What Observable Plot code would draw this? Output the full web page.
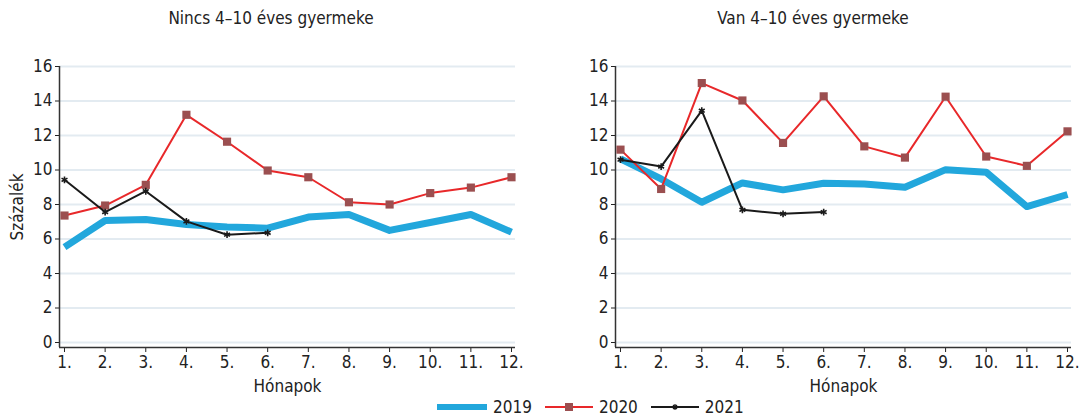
<!DOCTYPE html>
<html><head><meta charset="utf-8">
<script src="https://cdn.jsdelivr.net/npm/d3@7"></script>
<script src="https://cdn.jsdelivr.net/npm/@observablehq/plot@0.6"></script>
<style>
body{margin:0;background:#fff;font-family:"Liberation Sans Narrow","DejaVu Sans Condensed",sans-serif;color:#222}
#wrap{width:1084px;height:416px;position:relative;overflow:hidden}
.row{display:flex}
.panel{width:542px}
.title{height:36px;line-height:36px;text-align:center;font-size:17px}
#legend{position:absolute;left:437px;top:398px;height:18px;display:flex;align-items:center;font-size:17px}
#legend span{margin:0 13px 0 6px}
#legend svg{display:block}
</style></head><body>
<div id="wrap">
  <div class="row">
    <div class="panel"><div class="title">Nincs 4–10 éves gyermeke</div><div id="p1"></div></div>
    <div class="panel"><div class="title">Van 4–10 éves gyermeke</div><div id="p2"></div></div>
  </div>
  <div id="legend"></div>
</div>
<script>
const months = [1,2,3,4,5,6,7,8,9,10,11,12];
const monthLabels = ["1.","2.","3.","4.","5.","6.","7.","8.","9.","10.","11.","12."];
const yTicks = [0,2,4,6,8,10,12,14,16];
const seriesNames = ["2019","2020","2021"];

// Nincs 4–10 éves gyermeke
const no2019 = [5.53,7.07,7.13,6.84,6.69,6.63,7.27,7.42,6.50,6.96,7.42,6.40];
const no2020 = [7.36,7.94,9.14,13.20,11.64,9.97,9.58,8.13,8.00,8.66,8.98,9.58];
const no2021 = [9.43,7.56,8.77,7.02,6.25,6.36];
// Van 4–10 éves gyermeke
const yes2019 = [10.64,9.48,8.13,9.25,8.85,9.23,9.19,9.00,10.02,9.87,7.88,8.58];
const yes2020 = [11.18,8.90,15.04,14.03,11.57,14.27,11.37,10.72,14.25,10.78,10.24,12.24];
const yes2021 = [10.60,10.20,13.44,7.69,7.46,7.56];

const C19 = "#22a7dc", C20 = "#e8282a", M20 = "#9b4f50", C21 = "#1a1a1a";
const font = '"Liberation Sans Narrow","DejaVu Sans Condensed",sans-serif';

const toRows = vals => vals.map((v,i) => ({m: months[i], v}));
const xPadL = 5/40.64, xPadR = 4/40.64, yPad = 5/17.25;
const xDom = [months[0]-xPadL, months[months.length-1]+xPadR];
const yDom = [yTicks[0]-yPad, yTicks[yTicks.length-1]];

function panel(d19, d20, d21, o){
  const r19 = toRows(d19), r20 = toRows(d20), r21 = toRows(d21);
  return Plot.plot({
    width:542, height:362,
    marginLeft:o.ml, marginRight:o.mr, marginTop:30, marginBottom:51,
    style:{fontFamily:font, fontSize:"17px", color:"#222", background:"white", overflow:"visible"},
    x:{domain:xDom, ticks:months, tickFormat:d=>monthLabels[months.indexOf(d)], tickSize:5, tickPadding:3,
       label:"Hónapok", labelArrow:false, labelAnchor:"center", labelOffset:44},
    y:{domain:yDom, ticks:yTicks, tickSize:4, tickPadding:3, label:o.ylabel, labelArrow:false, labelAnchor:"center", labelOffset:49},
    marks:[
      Plot.ruleY(yTicks,{stroke:"#e3ebf1", strokeWidth:2}),
      Plot.ruleX([xDom[0]],{stroke:"#333", strokeWidth:1.5}),
      Plot.ruleY([yDom[0]],{stroke:"#333", strokeWidth:1.5}),
      Plot.line(r19,{x:"m", y:"v", stroke:C19, strokeWidth:7, strokeLinecap:"butt"}),
      Plot.line(r20,{x:"m", y:"v", stroke:C20, strokeWidth:2}),
      Plot.dot(r20,{x:"m", y:"v", symbol:"square", fill:M20, r:4.6}),
      Plot.line(r21,{x:"m", y:"v", stroke:C21, strokeWidth:2}),
      Plot.dot(r21,{x:"m", y:"v", symbol:"asterisk", stroke:C21, strokeWidth:1.6, r:3.2})
    ]
  });
}

document.getElementById("p1").append(panel(no2019, no2020, no2021, {ml:59, mr:27, ylabel:"Százalék"}));
document.getElementById("p2").append(panel(yes2019, yes2020, yes2021, {ml:73, mr:13, ylabel:null}));

// legend
const lg = document.getElementById("legend");
const sw = [
  `<svg width="50" height="18"><line x1="0" x2="50" y1="9" y2="9" stroke="${C19}" stroke-width="6"/></svg>`,
  `<svg width="48" height="18"><line x1="0" x2="48" y1="9" y2="9" stroke="${C20}" stroke-width="2"/><rect x="20" y="5" width="8" height="8" fill="${M20}"/></svg>`,
  `<svg width="48" height="18"><line x1="0" x2="48" y1="9" y2="9" stroke="${C21}" stroke-width="2"/><path d="M21,9h6M24,6v6M22,7l4,4M26,7l-4,4" stroke="${C21}" stroke-width="1.2"/></svg>`
];
seriesNames.forEach((n,i)=>{ lg.insertAdjacentHTML("beforeend", sw[i] + `<span>${n}</span>`); });
</script>
</body></html>
